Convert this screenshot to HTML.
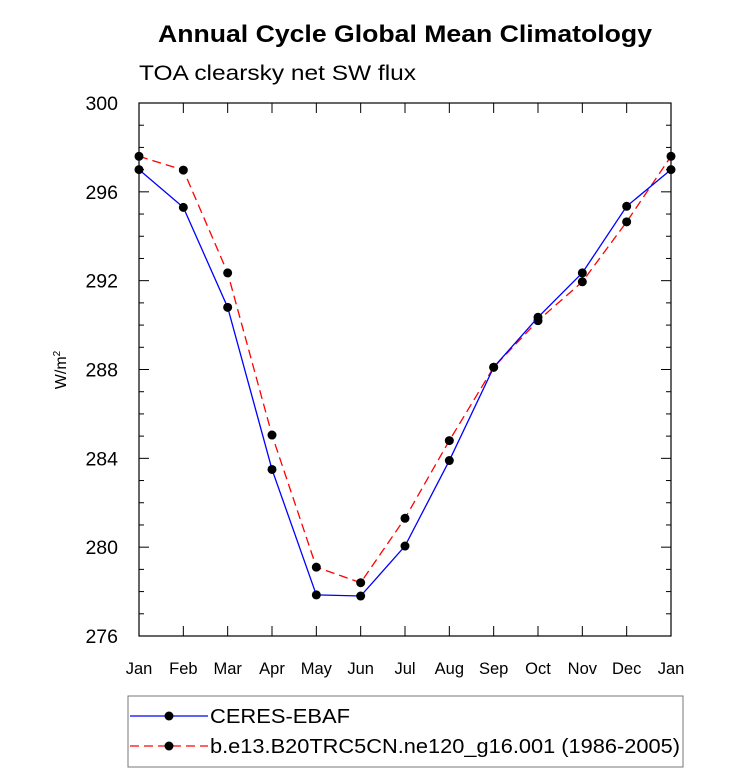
<!DOCTYPE html>
<html><head><meta charset="utf-8"><style>
body{margin:0;background:#fff;}
svg{font-family:"Liberation Sans",Helvetica,sans-serif;}
</style></head><body>
<svg id="chart" width="733" height="773">
<text x="158" y="42" font-size="24" font-weight="bold" textLength="494" lengthAdjust="spacingAndGlyphs">Annual Cycle Global Mean Climatology</text>
<text x="139" y="80" font-size="21" textLength="277" lengthAdjust="spacingAndGlyphs">TOA clearsky net SW flux</text>
<text transform="translate(66,370) rotate(-90)" text-anchor="middle" font-size="16">W/m<tspan dy="-6" font-size="10">2</tspan></text>
<g id="axes"></g>
<g id="series"></g>
<g>
<rect x="128" y="696" width="555" height="71" fill="none" stroke="#777" stroke-width="1"/>
<line x1="130" y1="716" x2="208" y2="716" stroke="#0000ff" stroke-width="1.3"/>
<circle cx="169" cy="716" r="4.5"/>
<text x="210" y="723" font-size="20" textLength="140" lengthAdjust="spacingAndGlyphs">CERES-EBAF</text>
<line x1="130" y1="746" x2="208" y2="746" stroke="#ff0000" stroke-width="1.3" stroke-dasharray="9,5"/>
<circle cx="169" cy="746" r="4.5"/>
<text x="210" y="753" font-size="20" textLength="470" lengthAdjust="spacingAndGlyphs">b.e13.B20TRC5CN.ne120_g16.001 (1986-2005)</text>
</g>
</svg>
<script>
const months=["Jan","Feb","Mar","Apr","May","Jun","Jul","Aug","Sep","Oct","Nov","Dec","Jan"];
const ceresValues=[297.0,295.3,290.8,283.5,277.85,277.8,280.05,283.9,288.1,290.35,292.35,295.35,297.0];
const modelValues=[297.6,296.98,292.35,285.05,279.1,278.4,281.3,284.8,288.1,290.2,291.95,294.65,297.6];
const yTicks=[276,280,284,288,292,296,300];
const X0=139,X1=671,Y0=103,Y1=636,YMIN=276,YMAX=300;
const ns="http://www.w3.org/2000/svg";
function xS(i){return X0+(X1-X0)*i/(months.length-1);}
function yS(v){return Y1-(v-YMIN)/(YMAX-YMIN)*(Y1-Y0);}
function mk(t,a,p){const e=document.createElementNS(ns,t);for(const k in a)e.setAttribute(k,a[k]);p.appendChild(e);return e;}
const ax=document.getElementById('axes');
const frame=mk('rect',{x:X0,y:Y0,width:X1-X0,height:Y1-Y0,fill:'none',stroke:'#000','stroke-width':1.2},ax);


months.forEach((m,i)=>{const x=xS(i);
mk('line',{x1:x,y1:Y1,x2:x,y2:Y1-10,stroke:'#000'},ax);
mk('line',{x1:x,y1:Y0,x2:x,y2:Y0+10,stroke:'#000'},ax);
const t=mk('text',{x:x,y:Y1+38,'text-anchor':'middle','font-size':16.5},ax);t.textContent=m;

});
for(let v=YMIN;v<=YMAX;v++){const y=yS(v);const major=(v%4===0);const L=major?10:5;
mk('line',{x1:X0,y1:y,x2:X0+L,y2:y,stroke:'#000'},ax);
mk('line',{x1:X1,y1:y,x2:X1-L,y2:y,stroke:'#000'},ax);}
yTicks.forEach(v=>{const t=mk('text',{x:X0-21,y:yS(v)+7,'text-anchor':'end','font-size':19.5},ax);t.textContent=v;

});
const sg=document.getElementById('series');
function draw(vals,col,dash,name){
const p=mk('polyline',{points:vals.map((v,i)=>xS(i)+','+yS(v)).join(' '),fill:'none',stroke:col,'stroke-width':1.3},sg);
if(dash)p.setAttribute('stroke-dasharray',dash);


vals.forEach((v,i)=>{const c=mk('circle',{cx:xS(i),cy:yS(v),r:4.5,fill:'#000'},sg);

});}
draw(modelValues,'#ff0000','9,5','model');
draw(ceresValues,'#0000ff',null,'ceres');
</script>
</body></html>
